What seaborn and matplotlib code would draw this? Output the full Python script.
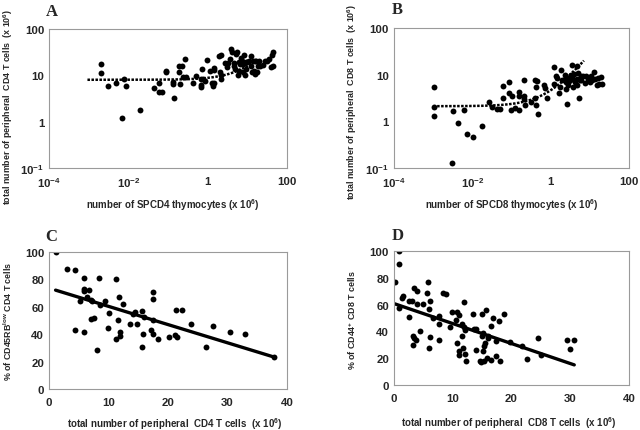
import numpy as np
import pandas as pd
import seaborn as sns
import matplotlib.pyplot as plt
from matplotlib.ticker import FixedLocator

sns.set_style("white")
plt.rcParams['font.family'] = ['Liberation Sans', 'DejaVu Sans']
plt.rcParams['font.weight'] = 'bold'
plt.rcParams['mathtext.fontset'] = 'custom'
plt.rcParams['mathtext.rm'] = 'Liberation Sans:bold'
plt.rcParams['mathtext.it'] = 'Liberation Sans:bold'
plt.rcParams['mathtext.bf'] = 'Liberation Sans:bold'

# panel A: SPCD4 thymocytes vs peripheral CD4 T cells
a_x = [0.0020, 0.0020, 0.0030, 0.0050, 0.0079, 0.0089, 0.0071, 0.020, 0.044, 0.059,
       0.060, 0.069, 0.089, 0.089, 0.13, 0.13, 0.14, 0.19, 0.23, 0.19,
       0.20, 0.26, 0.24, 0.29, 0.43, 0.51, 0.66, 0.72, 0.69, 0.66,
       0.76, 0.98, 0.83, 1.15, 1.3, 1.45, 1.35, 1.48, 1.48, 2.0,
       2.1, 1.95, 2.1, 2.2, 2.7, 3.2, 3.1, 3.7, 3.8, 4.2,
       4.6, 4.6, 5.1, 5.4, 5.0, 6.0, 6.6, 6.3, 6.9, 7.1,
       5.8, 7.8, 7.8, 9.1, 10.0, 9.3, 8.9, 11.2, 12.3, 13.8,
       15.1, 12.3, 8.3, 15.1, 18.2, 14.5, 16.6, 20.0, 21.0, 17.0,
       13.0, 27.0, 24.0, 31.0, 35.0, 41.0, 43.0, 45.0, 40.0]
a_y = [17.4, 11.3, 5.9, 6.7, 8.3, 5.8, 1.22, 1.8, 5.3, 6.9,
       4.4, 4.4, 12.6, 11.7, 7.2, 6.5, 3.2, 15.7, 15.7, 11.7,
       6.5, 22.4, 9.4, 9.4, 6.9, 9.6, 8.3, 13.5, 6.3, 5.7,
       8.3, 21.5, 7.5, 12.5, 6.7, 6.7, 5.8, 14.2, 13.0, 11.5,
       8.4, 26.3, 27.6, 10.0, 18.0, 18.0, 15.0, 22.6, 37.0, 32.0,
       18.0, 16.2, 29.0, 32.4, 13.8, 19.8, 17.5, 12.2, 24.2, 20.8,
       10.3, 12.0, 17.2, 19.2, 19.8, 13.8, 10.3, 20.8, 15.8, 20.8,
       20.8, 25.7, 27.6, 10.6, 16.2, 12.5, 20.5, 20.5, 16.2, 12.0,
       11.5, 20.5, 17.0, 20.5, 22.5, 27.6, 31.6, 16.2, 15.3]

# panel B: SPCD8 thymocytes vs peripheral CD8 T cells
b_x = [0.00105, 0.00105, 0.00105, 0.0032, 0.0042, 0.0063, 0.0072, 0.0105, 0.0177, 0.0031,
       0.027, 0.031, 0.042, 0.051, 0.062, 0.062, 0.085, 0.085, 0.105, 0.10,
       0.12, 0.16, 0.16, 0.16, 0.21, 0.21, 0.21, 0.22, 0.31, 0.40,
       0.40, 0.46, 0.42, 0.43, 0.49, 0.68, 0.72, 0.81, 1.26, 1.22,
       1.38, 1.45, 1.62, 1.75, 1.80, 2.0, 2.35, 2.45, 2.5, 2.55,
       2.7, 2.8, 2.9, 3.0, 3.3, 3.5, 3.6, 3.7, 3.9, 4.0,
       4.3, 4.6, 4.8, 4.8, 4.9, 5.3, 5.6, 5.9, 6.0, 6.8,
       7.5, 8.1, 9.3, 10.2, 10.7, 11.5, 12.5, 14.0, 15.5, 16.5,
       17.5, 19.5, 21.0]
b_y = [5.5, 2.06, 1.32, 1.64, 0.93, 1.75, 0.54, 0.45, 0.79, 0.13,
       2.6, 2.06, 1.87, 1.87, 5.6, 3.1, 7.1, 4.1, 3.4, 1.75,
       1.9, 4.3, 3.5, 1.75, 7.7, 3.4, 3.0, 2.2, 2.6, 3.1,
       7.7, 7.3, 5.5, 2.2, 1.4, 6.0, 5.1, 3.1, 6.2, 14.8,
       9.1, 8.6, 4.0, 5.5, 12.3, 7.7, 9.8, 4.9, 6.9, 8.7,
       2.3, 6.0, 7.9, 7.2, 9.6, 9.3, 16.2, 5.4, 7.8, 10.2,
       7.0, 8.1, 15.5, 6.0, 11.0, 3.2, 7.6, 7.8, 9.4, 9.4,
       6.7, 9.5, 7.9, 7.1, 9.3, 7.8, 11.5, 8.2, 6.0, 8.6,
       6.2, 8.9, 6.2]

# panel C: peripheral CD4 T cells vs % CD45RBlow
c_x = [1.1, 3.0, 4.3, 5.8, 8.4, 11.3, 5.8, 5.9, 6.7, 6.4,
       5.2, 7.0, 7.2, 8.5, 9.4, 11.7, 12.5, 10.0, 7.0, 7.5,
       11.6, 4.3, 5.9, 9.9, 8.1, 11.2, 11.9, 12.0, 13.6, 14.1,
       14.4, 14.7, 15.6, 16.0, 15.8, 15.6, 17.4, 17.4, 17.4, 17.2,
       17.5, 18.3, 20.1, 21.1, 21.5, 21.3, 22.4, 23.9, 26.3, 27.5,
       30.4, 33.0, 37.8]
c_y = [100, 87.4, 86.7, 81, 81, 80.4, 73.3, 71.6, 72.1, 67.3,
       64.4, 64.8, 63.9, 61.2, 64.4, 66.8, 62.0, 55.7, 50.8, 51.5,
       50.5, 43.1, 41.6, 44.8, 28.5, 36.5, 41.6, 39.0, 47.7, 54.5,
       56.4, 47.7, 57.2, 52.8, 40.0, 31.0, 70.9, 65.8, 50.3, 43.4,
       40.5, 36.5, 37.7, 39.4, 38.2, 57.6, 57.6, 47.4, 30.4, 45.9,
       41.3, 40.1, 23.2]

# panel D: peripheral CD8 T cells vs % CD44+
d_x = [0.1, 0.8, 0.9, 0.9, 1.4, 1.6, 2.5, 3.1, 2.6, 3.4,
       4.0, 3.9, 4.9, 4.4, 3.3, 3.4, 3.8, 3.3, 5.6, 5.8,
       5.9, 6.2, 6.1, 5.9, 6.7, 7.6, 7.7, 7.7, 8.3, 8.8,
       9.6, 9.8, 10.6, 10.8, 11.0, 10.8, 11.0, 11.1, 11.5, 11.6,
       11.8, 11.9, 11.9, 12.1, 12.1, 12.3, 13.4, 13.6, 14.0, 14.0,
       14.7, 14.8, 15.0, 15.0, 15.1, 15.1, 15.4, 15.5, 15.4, 15.6,
       16.0, 16.0, 15.8, 16.5, 16.6, 16.9, 17.4, 17.4, 17.8, 18.0,
       18.8, 19.7, 21.8, 22.6, 24.5, 25.0, 29.5, 29.9, 30.7]
d_y = [76.8, 90.6, 100, 57.2, 64.9, 66.5, 62.5, 63.0, 50.6, 72.1,
       70.4, 60.2, 60.2, 40.0, 36.5, 34.7, 33.7, 29.8, 68.8, 76.5,
       56.7, 62.6, 36.0, 27.3, 49.7, 51.5, 45.2, 33.5, 68.8, 68.0,
       43.2, 54.2, 48.3, 54.4, 51.9, 31.6, 25.4, 22.4, 45.2, 36.5,
       27.8, 43.2, 61.9, 40.7, 22.9, 17.9, 53.2, 42.0, 42.0, 25.8,
       17.6, 16.9, 52.7, 36.5, 39.0, 25.4, 29.3, 31.6, 17.6, 55.9,
       36.3, 34.8, 20.5, 18.9, 44.0, 49.9, 21.7, 32.5, 47.7, 17.9,
       53.2, 32.0, 29.1, 19.6, 34.8, 22.4, 33.8, 26.6, 33.8]

# trend lines (intercept, slope, x range)
a_fit = (8.0, 0.8, 0.00093, 11.5)
b_fit = (2.1, 2.5, 0.001, 7.1)
c_fit = (73.6, -1.33, 1.1, 37.8)
d_fit = (60.75, -1.49, 0.1, 30.7)

log_xt = [1e-4, 1e-2, 1, 100]
log_xl = ['10$^{-4}$', '10$^{-2}$', '1', '100']
log_yt = [0.1, 1, 10, 100]
log_yl = ['10$^{-1}$', '1', '10', '100']

fig = plt.figure(figsize=(6.4, 4.31), dpi=100)
axA = fig.add_axes([0.0766, 0.608, 0.372, 0.3225])
axB = fig.add_axes([0.6156, 0.608, 0.367, 0.325])
axC = fig.add_axes([0.0766, 0.0951, 0.372, 0.318])
axD = fig.add_axes([0.6156, 0.1044, 0.367, 0.311])


def style(ax):
    for s in ax.spines.values():
        s.set_color('#9a9a9a')
        s.set_linewidth(0.8)
    ax.tick_params(axis='both', length=2.5, width=0.8, color='#9a9a9a',
                   labelsize=8.2)
    ax.tick_params(axis='y', pad=1)
    ax.tick_params(axis='x', pad=3)
    for lab in ax.get_xticklabels() + ax.get_yticklabels():
        lab.set_fontweight('bold')


def trend(ax, fit, log, ls, lw):
    b0, b1, x0, x1 = fit
    if log:
        xs = np.logspace(np.log10(x0), np.log10(x1), 200)
    else:
        xs = np.linspace(x0, x1, 2)
    ax.plot(xs, b0 + b1 * xs, color='black', ls=ls, lw=lw)


for ax, xs, ys, fit in [(axA, a_x, a_y, a_fit), (axB, b_x, b_y, b_fit)]:
    df = pd.DataFrame({'x': xs, 'y': ys})
    sns.scatterplot(data=df, x='x', y='y', ax=ax, color='black', s=18,
                    edgecolor='black', linewidth=0)
    ax.set_xscale('log')
    ax.set_yscale('log')
    ax.set_xlim(1e-4, 100)
    ax.set_ylim(0.1, 100)
    ax.xaxis.set_major_locator(FixedLocator(log_xt))
    ax.yaxis.set_major_locator(FixedLocator(log_yt))
    ax.xaxis.set_minor_locator(FixedLocator([]))
    ax.yaxis.set_minor_locator(FixedLocator([]))
    ax.set_xticklabels(log_xl)
    ax.set_yticklabels(log_yl)
    trend(ax, fit, True, (0, (1, 0.6)), 1.8)
    style(ax)

for ax, xs, ys, fit in [(axC, c_x, c_y, c_fit), (axD, d_x, d_y, d_fit)]:
    df = pd.DataFrame({'x': xs, 'y': ys})
    sns.scatterplot(data=df, x='x', y='y', ax=ax, color='black', s=18,
                    edgecolor='black', linewidth=0)
    ax.set_xlim(0, 40)
    ax.set_ylim(0, 100)
    ax.set_xticks([0, 10, 20, 30, 40])
    ax.set_yticks([0, 20, 40, 60, 80, 100])
    trend(ax, fit, False, '-', 2.4)
    style(ax)

xlab_kw = dict(fontsize=7, fontweight='bold')
ylab_kw = dict(fontsize=6.4, fontweight='bold')
axA.set_xlabel('number of SPCD4 thymocytes (x 10$^{6}$)', **xlab_kw)
axA.set_ylabel('total number of peripheral  CD4 T cells  (x 10$^{6}$)', **ylab_kw)
axB.set_xlabel('number of SPCD8 thymocytes (x 10$^{6}$)', **xlab_kw)
axB.set_ylabel('total number of peripheral  CD8 T cells  (x 10$^{6}$)', **ylab_kw)
axC.set_xlabel('total number of peripheral  CD4 T cells  (x 10$^{6}$)', **xlab_kw)
axC.set_ylabel('% of CD45RB$^{low}$ CD4 T cells', **ylab_kw)
axD.set_xlabel('total number of peripheral  CD8 T cells  (x 10$^{6}$)', **xlab_kw)
axD.set_ylabel('% of CD44$^{+}$ CD8 T cells', **ylab_kw)

axA.xaxis.set_label_coords(0.52, -0.205)
axA.yaxis.set_label_coords(-0.142, 0.45)
axB.xaxis.set_label_coords(0.50, -0.205)
axB.yaxis.set_label_coords(-0.149, 0.48)
axC.xaxis.set_label_coords(0.53, -0.19)
axC.yaxis.set_label_coords(-0.148, 0.5)
axD.xaxis.set_label_coords(0.49, -0.215)
axD.yaxis.set_label_coords(-0.153, 0.49)

letter_kw = dict(fontsize=12, fontweight='bold', family='Liberation Serif')
fig.text(0.072, 0.962, 'A', **letter_kw)
fig.text(0.612, 0.967, 'B', **letter_kw)
fig.text(0.070, 0.440, 'C', **letter_kw)
fig.text(0.612, 0.443, 'D', **letter_kw)

fig.savefig('out.png', dpi=100)
